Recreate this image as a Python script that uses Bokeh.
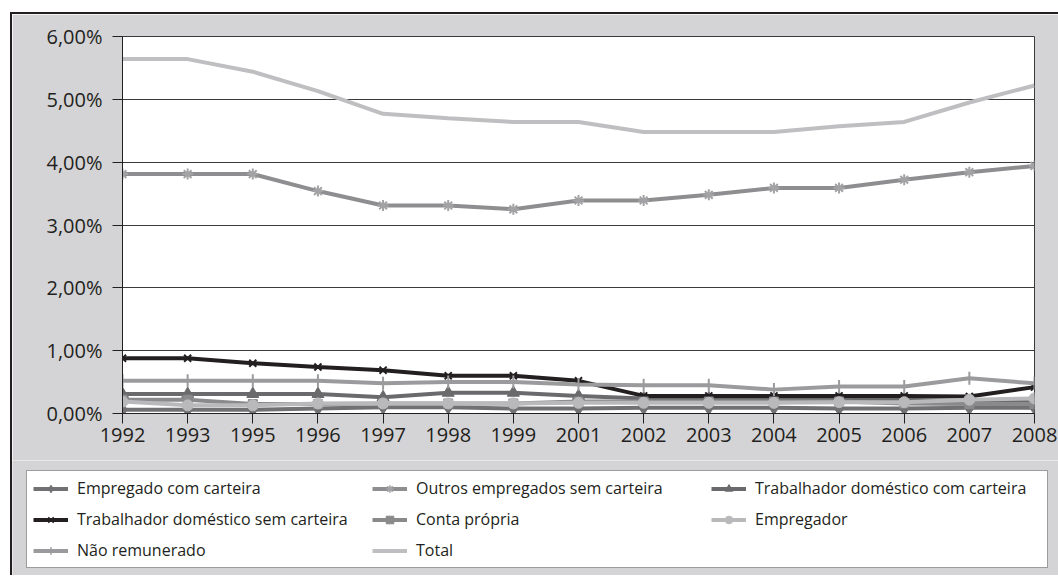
from bokeh.plotting import figure
from bokeh.layouts import column
from bokeh.models import Range1d, FixedTicker, Legend, LegendItem
from bokeh.embed import file_html
from bokeh.resources import INLINE

years = ["1992", "1993", "1995", "1996", "1997", "1998", "1999", "2001",
         "2002", "2003", "2004", "2005", "2006", "2007", "2008"]

empregado_com_carteira = [0.06, 0.06, 0.06, 0.08, 0.10, 0.10, 0.08, 0.08, 0.09, 0.09, 0.09, 0.08, 0.08, 0.09, 0.09]
outros_sem_carteira = [3.81, 3.81, 3.81, 3.54, 3.31, 3.31, 3.25, 3.39, 3.39, 3.48, 3.59, 3.59, 3.72, 3.84, 3.94]
domestico_com_carteira = [0.31, 0.31, 0.31, 0.31, 0.26, 0.33, 0.33, 0.28, 0.24, 0.24, 0.24, 0.24, 0.22, 0.20, 0.18]
domestico_sem_carteira = [0.88, 0.88, 0.80, 0.74, 0.69, 0.60, 0.60, 0.52, 0.28, 0.28, 0.28, 0.28, 0.28, 0.27, 0.42]
conta_propria = [0.22, 0.22, 0.15, 0.15, 0.16, 0.16, 0.16, 0.19, 0.19, 0.19, 0.19, 0.19, 0.16, 0.15, 0.15]
empregador = [0.19, 0.13, 0.13, 0.16, 0.16, 0.16, 0.16, 0.17, 0.17, 0.17, 0.17, 0.18, 0.18, 0.22, 0.24]
nao_remunerado = [0.52, 0.52, 0.52, 0.52, 0.48, 0.50, 0.50, 0.46, 0.45, 0.45, 0.38, 0.43, 0.43, 0.56, 0.48]
total = [5.64, 5.64, 5.44, 5.13, 4.77, 4.70, 4.64, 4.64, 4.48, 4.48, 4.48, 4.57, 4.64, 4.95, 5.22]

y_ticks = [0, 1, 2, 3, 4, 5, 6]
y_tick_labels = ["0,00%", "1,00%", "2,00%", "3,00%", "4,00%", "5,00%", "6,00%"]

series = [
    ("Empregado com carteira", empregado_com_carteira, "#717173", "diamond", 14, "#717173"),
    ("Outros empregados sem carteira", outros_sem_carteira, "#8e8e90", "asterisk", 11, "#a3a3a5"),
    ("Trabalhador doméstico com carteira", domestico_com_carteira, "#6a6a6c", "triangle", 12, "#6a6a6c"),
    ("Trabalhador doméstico sem carteira", domestico_sem_carteira, "#231f20", "x", 10, "#231f20"),
    ("Conta própria", conta_propria, "#8a8a8c", "square", 9, "#8a8a8c"),
    ("Empregador", empregador, "#b9b9bb", "circle", 11, "#b9b9bb"),
    ("Não remunerado", nao_remunerado, "#9b9b9d", "cross", 13, "#9b9b9d"),
    ("Total", total, "#bfbfc1", None, 0, "#bfbfc1"),
]

FONT = "Open Sans"
DARK = "#231f20"
BG = "#d4d4d6"

x = list(range(len(years)))

p = figure(width=1046, height=446,
           x_range=Range1d(0, len(years) - 1), y_range=Range1d(0, 6),
           output_backend="svg", toolbar_location=None,
           min_border_left=110, min_border_right=24,
           min_border_top=22, min_border_bottom=47)

p.background_fill_color = "white"
p.border_fill_color = BG
p.outline_line_color = "#3a3a3a"
p.outline_line_width = 1

p.xgrid.grid_line_color = None
p.ygrid.grid_line_color = "#3a3a3a"
p.ygrid.grid_line_width = 1

p.yaxis.ticker = FixedTicker(ticks=y_ticks)
p.yaxis.major_label_overrides = {t: l for t, l in zip(y_ticks, y_tick_labels)}
p.xaxis.ticker = FixedTicker(ticks=x)
p.xaxis.major_label_overrides = {i: y for i, y in zip(x, years)}

for ax in (p.xaxis[0], p.yaxis[0]):
    ax.axis_line_color = DARK
    ax.axis_line_width = 1
    ax.major_tick_line_color = DARK
    ax.major_tick_in = 0
    ax.major_tick_out = 10
    ax.minor_tick_line_color = None
    ax.major_label_text_font = FONT
    ax.major_label_text_font_size = "20px"
    ax.major_label_text_color = DARK
p.yaxis.major_label_standoff = 10
p.xaxis.major_label_standoff = 4

# legend panel (separate figure holding legend swatches)
q = figure(width=1046, height=115, x_range=Range1d(0, 1), y_range=Range1d(0, 1),
           x_axis_type=None, y_axis_type=None,
           output_backend="svg", toolbar_location=None,
           min_border_left=0, min_border_right=0, min_border_top=0, min_border_bottom=0)
q.background_fill_color = BG
q.border_fill_color = BG
q.outline_line_color = None

off = [-10, -9]
items = []
for name, vals, color, marker, size, mcolor in series:
    p.line(x, vals, line_color=color, line_width=4)
    rs = [q.line(off, off, line_color=color, line_width=4)]
    if marker is not None:
        if marker in ("x", "cross", "asterisk"):
            p.scatter(x, vals, marker=marker, size=size,
                      line_color=mcolor, line_width=2, fill_alpha=0)
            rs.append(q.scatter(off, off, marker=marker, line_color=mcolor,
                                line_width=1.5, fill_alpha=0))
        else:
            p.scatter(x, vals, marker=marker, size=size,
                      line_color=mcolor, fill_color=mcolor)
            rs.append(q.scatter(off, off, marker=marker, line_color=mcolor,
                                fill_color=mcolor))
    items.append(LegendItem(label=name, renderers=rs))

legend = Legend(items=items, orientation="horizontal", ncols=3,
                location=(14, 7), padding=6, margin=0, spacing=9,
                glyph_width=35, glyph_height=19, label_height=19,
                label_width=286, label_standoff=9, label_text_font=FONT,
                label_text_font_size="16px", label_text_color=DARK,
                border_line_color="#3a3a3a", border_line_width=1,
                background_fill_color="white", background_fill_alpha=1)
q.add_layout(legend)

root = column(p, column(q, spacing=0), spacing=0)
root.margin = (12, 0, 0, 10)
root.styles = {"border-left": "2px solid #231f20", "border-top": "2px solid #231f20"}

open("out.html", "w").write(file_html(root, INLINE))
